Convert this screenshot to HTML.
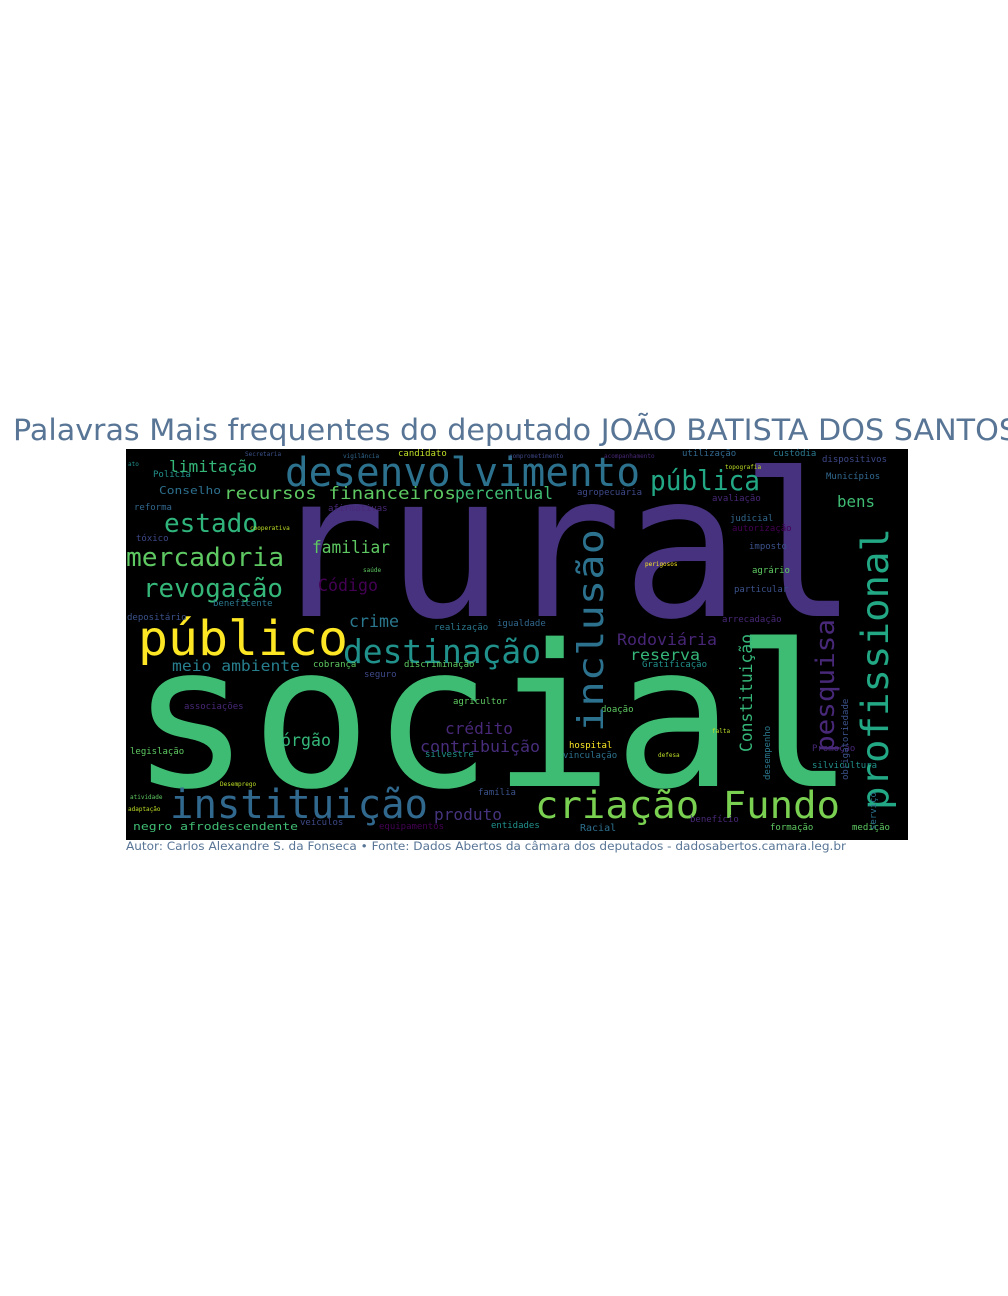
<!DOCTYPE html>
<html><head><meta charset="utf-8"><style>
html,body{margin:0;padding:0;background:#fff;width:1008px;height:1296px;overflow:hidden}
svg{display:block}
.m{font-family:"DejaVu Sans Mono","Liberation Mono",monospace}
</style></head><body>
<svg width="1008" height="1296" viewBox="0 0 1008 1296" xmlns="http://www.w3.org/2000/svg">
<text x="13" y="440" font-family="DejaVu Sans, Liberation Sans, sans-serif" font-size="29" fill="#587596" textLength="1005" lengthAdjust="spacingAndGlyphs">Palavras Mais frequentes do deputado JOÃO BATISTA DOS SANTOS</text>
<rect x="126" y="449" width="782" height="391" fill="#000"/>
<g class="m">
<text x="268" y="616" font-size="200" fill="#46327e" textLength="590" lengthAdjust="spacingAndGlyphs">rural</text>
<text x="130" y="786" font-size="198" fill="#3fbc73" textLength="725" lengthAdjust="spacingAndGlyphs">social</text>
<text x="285" y="486" font-size="40" fill="#2c728e" textLength="355" lengthAdjust="spacingAndGlyphs">desenvolvimento</text>
<text x="138" y="655" font-size="48" fill="#fde725" textLength="210" lengthAdjust="spacingAndGlyphs">público</text>
<text x="343" y="663" font-size="33" fill="#21918c" textLength="198" lengthAdjust="spacingAndGlyphs">destinação</text>
<text x="170" y="818" font-size="40" fill="#31688e" textLength="258" lengthAdjust="spacingAndGlyphs">instituição</text>
<text x="535" y="818" font-size="37" fill="#7ad151" textLength="305" lengthAdjust="spacingAndGlyphs">criação Fundo</text>
<text x="650" y="490" font-size="28" fill="#22a884" textLength="110" lengthAdjust="spacingAndGlyphs">pública</text>
<text x="126" y="566" font-size="26" fill="#5ec962" textLength="158" lengthAdjust="spacingAndGlyphs">mercadoria</text>
<text x="143" y="597" font-size="26" fill="#35b779" textLength="140" lengthAdjust="spacingAndGlyphs">revogação</text>
<text x="164" y="532" font-size="26" fill="#2fb47c" textLength="94" lengthAdjust="spacingAndGlyphs">estado</text>
<text x="169" y="472" font-size="16" fill="#35b779" textLength="88" lengthAdjust="spacingAndGlyphs">limitação</text>
<text x="224" y="499" font-size="17" fill="#5ec962" textLength="232" lengthAdjust="spacingAndGlyphs">recursos financeiros</text>
<text x="455" y="499" font-size="17" fill="#3fbc73" textLength="98" lengthAdjust="spacingAndGlyphs">percentual</text>
<text x="312" y="553" font-size="17" fill="#5ec962" textLength="78" lengthAdjust="spacingAndGlyphs">familiar</text>
<text x="318" y="591" font-size="17" fill="#440154" textLength="60" lengthAdjust="spacingAndGlyphs">Código</text>
<text x="349" y="627" font-size="17" fill="#2a788e" textLength="50" lengthAdjust="spacingAndGlyphs">crime</text>
<text x="172" y="671" font-size="15" fill="#277f8e" textLength="128" lengthAdjust="spacingAndGlyphs">meio ambiente</text>
<text x="445" y="734" font-size="16" fill="#482878" textLength="68" lengthAdjust="spacingAndGlyphs">crédito</text>
<text x="420" y="752" font-size="16" fill="#472d7b" textLength="120" lengthAdjust="spacingAndGlyphs">contribuição</text>
<text x="281" y="746" font-size="17" fill="#35b779" textLength="50" lengthAdjust="spacingAndGlyphs">órgão</text>
<text x="434" y="820" font-size="16" fill="#46337e" textLength="68" lengthAdjust="spacingAndGlyphs">produto</text>
<text x="133" y="830" font-size="11" fill="#3fbc73" textLength="165" lengthAdjust="spacingAndGlyphs">negro afrodescendente</text>
<text x="837" y="507" font-size="16" fill="#3fbc73" textLength="38" lengthAdjust="spacingAndGlyphs">bens</text>
<text x="617" y="645" font-size="16" fill="#482677" textLength="100" lengthAdjust="spacingAndGlyphs">Rodoviária</text>
<text x="630" y="660" font-size="15" fill="#35b779" textLength="70" lengthAdjust="spacingAndGlyphs">reserva</text>
<text x="159" y="494" font-size="11" fill="#2d708e" textLength="62" lengthAdjust="spacingAndGlyphs">Conselho</text>
<text x="127" y="620" font-size="9" fill="#3b528b">depositário</text>
<text x="213" y="606" font-size="9" fill="#2a788e">beneficente</text>
<text x="134" y="510" font-size="9" fill="#31688e">reforma</text>
<text x="136" y="541" font-size="9" fill="#3e4989">tóxico</text>
<text x="153" y="477" font-size="9" fill="#21918c">Polícia</text>
<text x="398" y="456" font-size="9" fill="#bddf26">candidato</text>
<text x="682" y="456" font-size="9" fill="#31688e">utilização</text>
<text x="773" y="456" font-size="9" fill="#2a788e">custódia</text>
<text x="822" y="462" font-size="9" fill="#3e4989">dispositivos</text>
<text x="826" y="479" font-size="9" fill="#31688e">Municípios</text>
<text x="577" y="495" font-size="9" fill="#3e4989">agropecuária</text>
<text x="712" y="501" font-size="9" fill="#482878">avaliação</text>
<text x="730" y="521" font-size="9" fill="#31688e">judicial</text>
<text x="732" y="531" font-size="9" fill="#440154">autorização</text>
<text x="749" y="549" font-size="9" fill="#3b528b">imposto</text>
<text x="752" y="573" font-size="9" fill="#5ec962">agrário</text>
<text x="734" y="592" font-size="9" fill="#3b528b">particular</text>
<text x="722" y="622" font-size="9" fill="#482878">arrecadação</text>
<text x="642" y="667" font-size="9" fill="#21918c">Gratificação</text>
<text x="601" y="712" font-size="9" fill="#5ec962">doação</text>
<text x="569" y="748" font-size="9" fill="#fde725">hospital</text>
<text x="563" y="758" font-size="9" fill="#2c728e">vinculação</text>
<text x="812" y="751" font-size="9" fill="#482878">Promoção</text>
<text x="812" y="768" font-size="9" fill="#21918c">silvicultura</text>
<text x="580" y="831" font-size="10" fill="#2d708e">Racial</text>
<text x="690" y="822" font-size="9" fill="#482878">benefício</text>
<text x="770" y="830" font-size="9" fill="#5ec962">formação</text>
<text x="852" y="830" font-size="9" fill="#5ec962">medição</text>
<text x="434" y="630" font-size="9" fill="#2a788e">realização</text>
<text x="497" y="626" font-size="9" fill="#31688e">igualdade</text>
<text x="404" y="667" font-size="9" fill="#5ec962">discriminação</text>
<text x="313" y="667" font-size="9" fill="#5ec962">cobrança</text>
<text x="364" y="677" font-size="9" fill="#3e4989">seguro</text>
<text x="453" y="704" font-size="9" fill="#5ec962">agricultor</text>
<text x="184" y="709" font-size="9" fill="#482878">associações</text>
<text x="130" y="754" font-size="9" fill="#5ec962">legislação</text>
<text x="425" y="757" font-size="9" fill="#21918c">silvestre</text>
<text x="478" y="795" font-size="9" fill="#3b528b">família</text>
<text x="300" y="825" font-size="9" fill="#3e4989">veículos</text>
<text x="379" y="829" font-size="9" fill="#440154">equipamentos</text>
<text x="491" y="828" font-size="9" fill="#21918c">entidades</text>
<text x="328" y="511" font-size="9" fill="#482878">afirmativas</text>
<text x="128" y="466" font-size="6" fill="#21918c">ato</text>
<text x="245" y="456" font-size="6" fill="#3b528b">Secretaria</text>
<text x="343" y="458" font-size="6" fill="#31688e">vigilância</text>
<text x="509" y="458" font-size="6" fill="#3e4989">comprometimento</text>
<text x="604" y="458" font-size="6" fill="#482878">acompanhamento</text>
<text x="725" y="469" font-size="6" fill="#bddf26">topografia</text>
<text x="645" y="566" font-size="6" fill="#fde725">perigosos</text>
<text x="250" y="530" font-size="6" fill="#bddf26">cooperativa</text>
<text x="363" y="572" font-size="6" fill="#5ec962">saúde</text>
<text x="130" y="799" font-size="6" fill="#5ec962">atividade</text>
<text x="128" y="811" font-size="6" fill="#bddf26">adaptação</text>
<text x="220" y="786" font-size="6" fill="#bddf26">Desemprego</text>
<text x="658" y="757" font-size="6" fill="#bddf26">defesa</text>
<text x="712" y="733" font-size="6" fill="#bddf26">falta</text>
</g>
<g class="m">
<text transform="translate(888,810) rotate(-90)" font-size="37" fill="#22a884" textLength="282" lengthAdjust="spacingAndGlyphs">profissional</text>
<text transform="translate(603,732) rotate(-90)" font-size="36" fill="#2c728e" textLength="203" lengthAdjust="spacingAndGlyphs">inclusão</text>
<text transform="translate(834,752) rotate(-90)" font-size="26" fill="#482878" textLength="133" lengthAdjust="spacingAndGlyphs">pesquisa</text>
<text transform="translate(752,752) rotate(-90)" font-size="17" fill="#35b779" textLength="118" lengthAdjust="spacingAndGlyphs">Constituição</text>
<text transform="translate(770,780) rotate(-90)" font-size="9" fill="#2a788e">desempenho</text>
<text transform="translate(848,780) rotate(-90)" font-size="9" fill="#3b528b">obrigatoriedade</text>
<text transform="translate(876,830) rotate(-90)" font-size="9" fill="#2c728e">serviço</text>
</g>
<text x="126" y="850" font-family="DejaVu Sans, Liberation Sans, sans-serif" font-size="11.5" fill="#587596" textLength="720" lengthAdjust="spacingAndGlyphs">Autor: Carlos Alexandre S. da Fonseca • Fonte: Dados Abertos da câmara dos deputados - dadosabertos.camara.leg.br</text>
</svg>
</body></html>
